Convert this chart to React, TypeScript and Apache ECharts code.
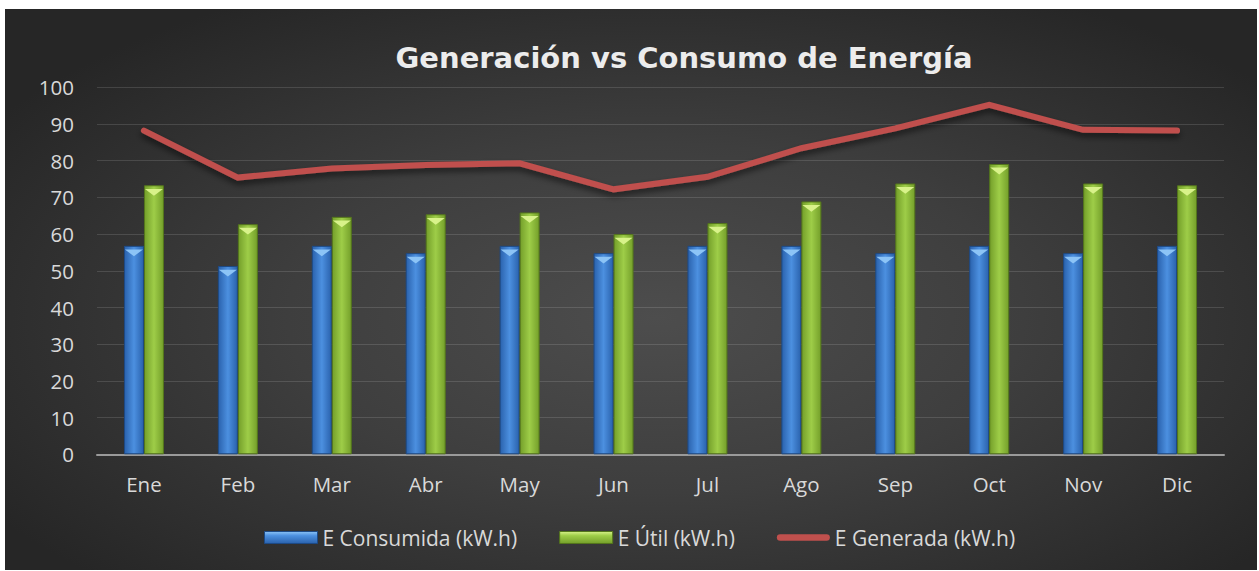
import React, { useEffect, useRef } from 'react';
import * as echarts from 'echarts';

const categories = ['Ene', 'Feb', 'Mar', 'Abr', 'May', 'Jun', 'Jul', 'Ago', 'Sep', 'Oct', 'Nov', 'Dic'];
const consumida = [56.8, 51.3, 56.8, 54.8, 56.8, 54.8, 56.8, 56.8, 54.8, 56.8, 54.8, 56.8];
const util = [73.3, 62.7, 64.7, 65.4, 65.9, 60.0, 63.0, 68.9, 73.8, 79.1, 73.8, 73.3];
const generada = [88.2, 75.4, 77.9, 78.8, 79.3, 72.2, 75.6, 83.4, 88.8, 95.2, 88.4, 88.2];
const seriesNames = ['E Consumida (kW.h)', 'E Útil (kW.h)', 'E Generada (kW.h)'];
const titleText = 'Generación vs Consumo de Energía';

const blueGrad = new echarts.graphic.LinearGradient(0, 0, 1, 0, [
  { offset: 0, color: '#2a62ad' },
  { offset: 0.5, color: '#4c90e0' },
  { offset: 1, color: '#2a62ad' },
]);
const greenGrad = new echarts.graphic.LinearGradient(0, 0, 1, 0, [
  { offset: 0, color: '#749f2a' },
  { offset: 0.5, color: '#9ecd48' },
  { offset: 1, color: '#749f2a' },
]);
const blueLegend = new echarts.graphic.LinearGradient(0, 0, 0, 1, [
  { offset: 0, color: '#8cc4f6' },
  { offset: 0.35, color: '#4c90e0' },
  { offset: 1, color: '#2a62ad' },
]);
const greenLegend = new echarts.graphic.LinearGradient(0, 0, 0, 1, [
  { offset: 0, color: '#d8f28a' },
  { offset: 0.35, color: '#9ecd48' },
  { offset: 1, color: '#749f2a' },
]);

export default function App() {
  const ref = useRef<HTMLDivElement>(null);
  useEffect(() => {
    const chart = echarts.init(ref.current!, null, { renderer: 'svg' });
    const font = 'Open Sans';
    chart.setOption({
      animation: false,
      backgroundColor: 'transparent',
      graphic: [
        {
          type: 'text',
          x: 684,
          y: 58,
          style: {
            text: titleText,
            font: 'bold 29px "DejaVu Sans"',
            fill: '#ececec',
            align: 'center',
            verticalAlign: 'middle',
            shadowColor: 'rgba(0,0,0,0.6)',
            shadowBlur: 3,
            shadowOffsetX: 1,
            shadowOffsetY: 2,
          },
        },
      ],
      legend: {
        left: 259,
        top: 522,
        itemWidth: 53,
        itemHeight: 12,
        itemGap: 42,
        textStyle: { color: '#d9d9d9', fontFamily: font, fontSize: 21 },
        data: [
          { name: seriesNames[0], icon: 'rect', itemStyle: { color: blueLegend, borderColor: '#1d4a86', borderWidth: 1 } },
          { name: seriesNames[1], icon: 'rect', itemStyle: { color: greenLegend, borderColor: '#54761c', borderWidth: 1 } },
          {
            name: seriesNames[2],
            icon: 'path://M3.5,0 L53.5,0 A3.5,3.5 0 0 1 53.5,7 L3.5,7 A3.5,3.5 0 0 1 3.5,0 Z',
            itemStyle: { color: '#c0504d' },
          },
        ],
      },
      grid: { left: 97, right: 35, top: 87.3, bottom: 116.7 },
      xAxis: {
        type: 'category',
        data: categories,
        axisLine: { lineStyle: { color: '#9a9a9a', width: 2 } },
        axisTick: { show: false },
        axisLabel: { color: '#d9d9d9', fontFamily: font, fontSize: 20.5, margin: 19 },
      },
      yAxis: {
        type: 'value',
        min: 0,
        max: 100,
        interval: 10,
        axisLine: { show: false },
        axisTick: { show: false },
        axisLabel: { color: '#d9d9d9', fontFamily: font, fontSize: 20.5, margin: 23 },
        splitLine: { lineStyle: { color: 'rgba(255,255,255,0.13)', width: 1 } },
      },
      series: [
        {
          name: seriesNames[0],
          type: 'bar',
          data: consumida,
          barWidth: 20,
          barGap: '0%',
          itemStyle: { color: blueGrad, borderColor: '#1d4a86', borderWidth: 1 },
          z: 2,
        },
        {
          name: seriesNames[1],
          type: 'bar',
          data: util,
          barWidth: 20,
          barGap: '0%',
          itemStyle: { color: greenGrad, borderColor: '#54761c', borderWidth: 1 },
          z: 2,
        },
        {
          name: 'bevel1',
          type: 'pictorialBar',
          data: consumida,
          barWidth: 20,
          barGap: '0%',
          symbol: 'triangle',
          symbolRotate: 180,
          symbolSize: [18, 7],
          symbolPosition: 'end',
          symbolOffset: [0, '50%'],
          itemStyle: { color: '#8cc4f6' },
          silent: true,
          z: 3,
        },
        {
          name: 'bevel2',
          type: 'pictorialBar',
          data: util,
          barWidth: 20,
          barGap: '0%',
          symbol: 'triangle',
          symbolRotate: 180,
          symbolSize: [18, 7],
          symbolPosition: 'end',
          symbolOffset: [0, '50%'],
          itemStyle: { color: '#d8f28a' },
          silent: true,
          z: 3,
        },
        {
          name: seriesNames[2],
          type: 'line',
          data: generada,
          symbol: 'none',
          lineStyle: {
            color: '#c0504d',
            width: 6,
            cap: 'round',
            join: 'miter',
            shadowColor: 'rgba(0,0,0,0.55)',
            shadowBlur: 6,
            shadowOffsetY: 4,
          },
          itemStyle: { color: '#c0504d' },
          z: 5,
        },
      ],
    });
    return () => chart.dispose();
  }, []);
  return (
    <div style={{ position: 'absolute', left: 0, top: 0, width: 1259, height: 571, background: '#ffffff' }}>
      <div
        style={{
          position: 'absolute',
          left: 5,
          top: 9,
          width: 1252,
          height: 561,
          background: 'radial-gradient(ellipse at 52% 55%, #4d4d4d 0%, #3e3e3e 40%, #262626 85%)',
        }}
      />
      <div ref={ref} style={{ position: 'absolute', left: 0, top: 0, width: 1259, height: 571 }} />
    </div>
  );
}
